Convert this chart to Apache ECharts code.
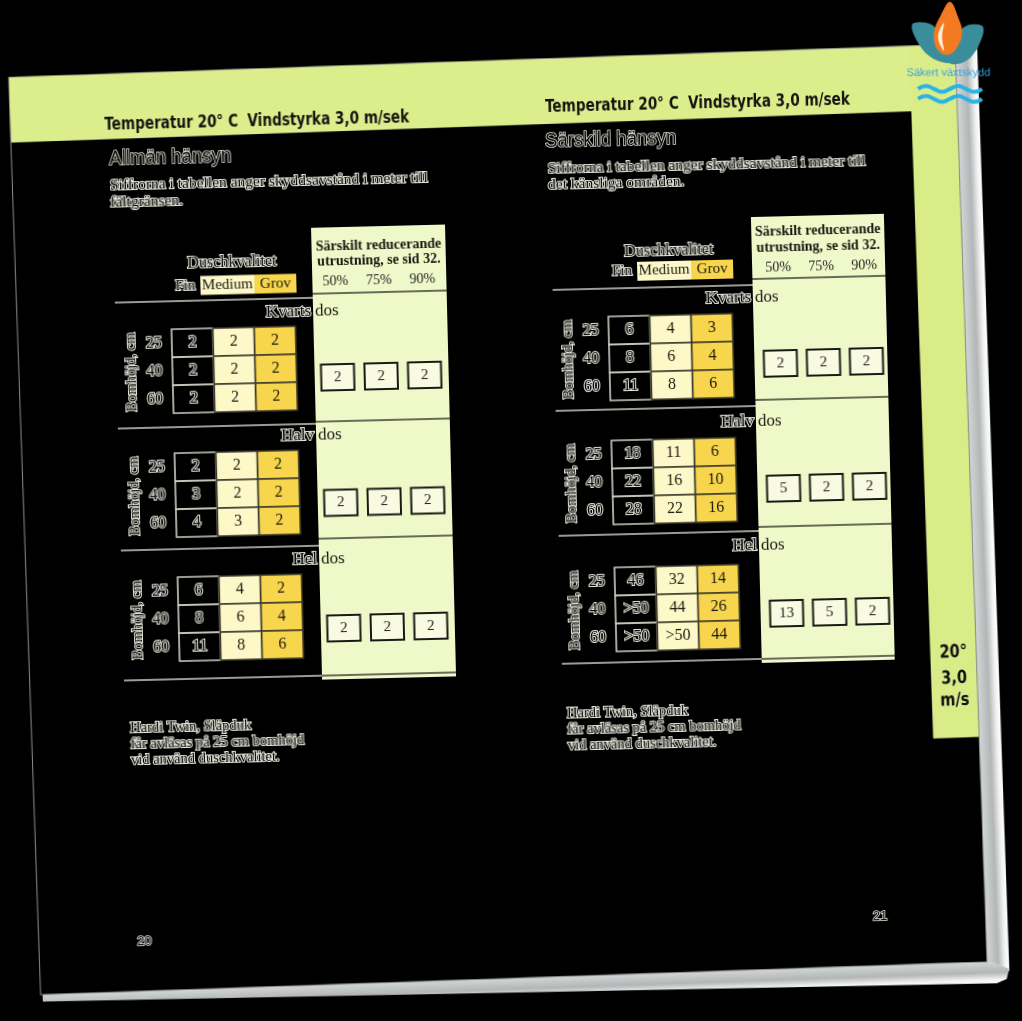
<!DOCTYPE html>
<html>
<head>
<meta charset="utf-8">
<title>Temperatur 20° C Vindstyrka 3,0 m/sek</title>
<script src="https://cdn.jsdelivr.net/npm/echarts@6/dist/echarts.min.js"></script>
<style>
  html, body { margin: 0; padding: 0; background: #000; overflow: hidden; }
  #main { width: 1022px; height: 1021px; transform: rotate(-1.4deg); transform-origin: 511px 510px; }
</style>
</head>
<body>
<div id="main"></div>
<script>
// kategorier
const qualities = ['Fin', 'Medium', 'Grov']
const boomHeights = ['25', '40', '60']
const doses = ['Kvarts', 'Halv', 'Hel']
const reductions = ['50%', '75%', '90%']

// sida 20, allmän hänsyn (rad = bomhöjd, kolumn = duschkvalitet)
const generalKvarts = [[2, 2, 2], [2, 2, 2], [2, 2, 2]]
const generalHalv = [[2, 2, 2], [3, 2, 2], [4, 3, 2]]
const generalHel = [[6, 4, 2], [8, 6, 4], [11, 8, 6]]
const generalReduced = [[2, 2, 2], [2, 2, 2], [2, 2, 2]]

// sida 21, särskild hänsyn
const specialKvarts = [[6, 4, 3], [8, 6, 4], [11, 8, 6]]
const specialHalv = [[18, 11, 6], [22, 16, 10], [28, 22, 16]]
const specialHel = [['46', '32', '14'], ['>50', '44', '26'], ['>50', '>50', '44']]
const specialReduced = [[2, 2, 2], [5, 2, 2], [13, 5, 2]]

const pageTables = [[generalKvarts, generalHalv, generalHel], [specialKvarts, specialHalv, specialHel]]
const pageReduced = [generalReduced, specialReduced]
const headerText = 'Temperatur 20° C  Vindstyrka 3,0 m/sek'
const subTitles = ['Allmän hänsyn', 'Särskild hänsyn']
const bodyLines = [
  ['Siffrorna i tabellen anger skyddsavstånd i meter till', 'fältgränsen.'],
  ['Siffrorna i tabellen anger skyddsavstånd i meter till', 'det känsliga områden.']
]
const footLines = ['Hardi Twin, Släpduk', 'får avläsas på 25 cm bomhöjd', 'vid använd duschkvalitet.']
const pageNumbers = ['20', '21']
const tabLines = ['20°', '3,0', 'm/s']

// layout (ej data)
const layout = [
  {
    head: [114, 115], sub: [118, 149], body: [118, 176, 17], tableLeft: 176, tableTops: [321, 445, 569],
    panel: [318, 223, 452, 675], panelHead: [242, 257, 277], lineLeft: 120,
    seps: [[293, 289], [419, 417], [541, 534], [671, 671]], titles: [307, 431, 555], qualY: 278, duschY: 256,
    boxX: [341, 428], boxY: [373, 624], foot: [125, 719], pageNo: [134, 932]
  },
  {
    head: [555, 108], sub: [554, 142], body: [556, 170, 16], tableLeft: 613, tableTops: [319, 443, 570],
    panel: [758, 223, 891, 669], panelHead: [238, 254, 274.5], lineLeft: 558,
    seps: [[291, 285], [412, 406], [537, 533], [665, 665]], titles: [304, 428, 552], qualY: 274.5, duschY: 255,
    boxX: [784, 870], boxY: [370, 620], foot: [562, 715.5], pageNo: [870, 925]
  }
]

const DEG = Math.PI / 180
const serif = "'Liberation Serif', 'DejaVu Serif', serif"
const sans = "'Liberation Sans', 'DejaVu Sans', sans-serif"
const narrow = "'DejaVu Sans Condensed', 'Liberation Sans', sans-serif"
const cellFill = ['rgba(0,0,0,0)', '#fdf8c8', '#f7d54c']
const haloColor = '#e2e5d8'

function txt (x, y, text, font, extra, z) {
  return {
    type: 'text', x: x, y: y, z: z || 50,
    style: Object.assign({
      text: text, font: font, fill: '#161610',
      textAlign: 'left', align: 'left', textVerticalAlign: 'middle', verticalAlign: 'middle'
    }, extra || {})
  }
}
// ljus kant runt mörk text: ett streck-lager under ett fyll-lager
function halo (x, y, text, font, extra, w, sx) {
  const under = txt(x, y, text, font, Object.assign({}, extra, { fill: null, stroke: haloColor, lineWidth: w || 2 }), 48)
  const over = txt(x, y, text, font, Object.assign({}, extra, { fill: '#050505' }), 50)
  if (sx) { under.scaleX = sx; over.scaleX = sx }
  return [under, over]
}
const center = { textAlign: 'center', align: 'center' }
const right = { textAlign: 'right', align: 'right' }
function line (x1, y1, x2, y2, color, w) {
  return { type: 'line', z: 20, shape: { x1: x1, y1: y1, x2: x2, y2: y2 }, style: { stroke: color, lineWidth: w || 1.5 } }
}

function cellRenderer (table) {
  return function (params, api) {
    const col = api.value(0)
    const row = api.value(1)
    const c = api.coord([col, row])
    const s = api.size([1, 1])
    const fin = col === 0
    const label = String(table[row][col])
    const rect = {
      type: 'rect',
      shape: { x: c[0] - s[0] / 2, y: c[1] - s[1] / 2, width: s[0], height: s[1] },
      style: { fill: cellFill[col], stroke: fin ? '#cdd0c2' : '#3a382a', lineWidth: 1.6 }
    }
    const base = { x: c[0], y: c[1], text: label, font: '16px ' + serif, textAlign: 'center', align: 'center', textVerticalAlign: 'middle', verticalAlign: 'middle' }
    const children = [rect]
    if (fin) {
      children.push({ type: 'text', style: Object.assign({}, base, { fill: null, stroke: haloColor, lineWidth: 2 }) })
      children.push({ type: 'text', style: Object.assign({}, base, { fill: '#050505' }) })
    } else {
      children.push({ type: 'text', style: Object.assign({}, base, { fill: '#1c1a12' }) })
    }
    return { type: 'group', children: children }
  }
}

function boxRenderer (values) {
  return function (params, api) {
    const col = api.value(0)
    const row = api.value(1)
    const c = api.coord([col, row])
    return {
      type: 'group',
      children: [
        { type: 'rect', shape: { x: c[0] - 16.5, y: c[1] - 13, width: 33, height: 26 }, style: { fill: '#f8fbe2', stroke: '#1a1a14', lineWidth: 2 } },
        { type: 'text', style: { x: c[0], y: c[1], text: String(values[row][col]), font: '15px ' + serif, fill: '#222', textAlign: 'center', align: 'center', textVerticalAlign: 'middle', verticalAlign: 'middle' } }
      ]
    }
  }
}

const grids = []
const xAxes = []
const yAxes = []
const series = []
const elements = []

// sidram, band och flik (ramen lutar lite mer än innehållet)
const shade = function (horizontal) {
  return new echarts.graphic.LinearGradient(0, 0, horizontal ? 1 : 0, horizontal ? 0 : 1, [
    { offset: 0, color: '#d2d6d6' }, { offset: 0.5, color: '#b2b6b6' },
    { offset: 0.82, color: '#f2f2f2' }, { offset: 1, color: '#ffffff' }
  ])
}
elements.push({
  type: 'group', originX: 511, originY: 510, rotation: 0.6 * DEG, z: 0,
  children: [
    { type: 'rect', z: 1, shape: { x: 971, y: 62, width: 22, height: 926 }, style: { fill: shade(true) } },
    { type: 'polygon', z: 1, shape: { points: [[26, 978], [975, 978], [993, 986], [990, 996], [980, 1000], [26, 985]] }, style: { fill: shade(false) } },
    { type: 'rect', z: 2, shape: { x: 24, y: 60, width: 947, height: 65.5 }, style: { fill: '#dcee8c' } },
    { type: 'rect', z: 2, shape: { x: 925, y: 60, width: 46, height: 693 }, style: { fill: '#d9ec88' } },
    { type: 'polyline', z: 3, shape: { points: [[971, 60], [24, 60], [24, 978], [971, 978], [971, 60]] }, style: { stroke: '#8c8e88', lineWidth: 1, fill: null } }
  ].concat(tabLines.map(function (t, i) {
    const el = txt(948, [668, 694, 716][i], t, 'bold 18px ' + narrow, Object.assign({ fill: '#111' }, center))
    el.scaleX = 0.9
    return el
  }))
})

layout.forEach(function (L, p) {
  const pl = L.panel
  elements.push({ type: 'rect', z: 5, shape: { x: pl[0], y: pl[1], width: pl[2] - pl[0], height: pl[3] - pl[1] }, style: { fill: '#eff8c8' } })
  const head = txt(L.head[0], L.head[1], headerText, 'bold 18px ' + narrow, { fill: '#141410' })
  head.scaleX = 0.84
  elements.push(head)
  elements.push.apply(elements, halo(L.sub[0], L.sub[1], subTitles[p], '20px ' + sans, {}, 1.6, 0.93))
  bodyLines[p].forEach(function (t, i) {
    elements.push.apply(elements, halo(L.body[0], L.body[1] + i * L.body[2], t, '15.5px ' + serif, {}))
  })
  const tl = L.tableLeft
  elements.push.apply(elements, halo(tl + 62, L.duschY, 'Duschkvalitet', '16px ' + serif, center))
  elements.push.apply(elements, halo(tl + 15, L.qualY, qualities[0], '15px ' + serif, center))
  elements.push({ type: 'rect', z: 30, shape: { x: tl + 30, y: L.qualY - 9.5, width: 54, height: 19 }, style: { fill: cellFill[1] } })
  elements.push({ type: 'rect', z: 30, shape: { x: tl + 84, y: L.qualY - 9.5, width: 42, height: 19 }, style: { fill: cellFill[2] } })
  elements.push(txt(tl + 57, L.qualY, qualities[1], '15px ' + serif, center))
  elements.push(txt(tl + 105, L.qualY, qualities[2], '15px ' + serif, center))
  const pc = (pl[0] + pl[2]) / 2
  elements.push(txt(pc, L.panelHead[0], 'Särskilt reducerande', 'bold 14px ' + serif, center))
  elements.push(txt(pc, L.panelHead[1], 'utrustning, se sid 32.', 'bold 14px ' + serif, center))
  const bstep = (L.boxX[1] - L.boxX[0]) / 2
  reductions.forEach(function (r, i) {
    elements.push(txt(L.boxX[0] + i * bstep, L.panelHead[2], r, '14px ' + serif, Object.assign({ fill: '#222' }, center)))
  })
  L.seps.forEach(function (s) {
    elements.push(line(L.lineLeft, s[0], pl[0], s[0], '#cdd0c4', 1.6))
    elements.push(line(pl[0], s[1], pl[2], s[1], '#3c3c34', 1.6))
  })
  doses.forEach(function (d, s) {
    elements.push.apply(elements, halo(pl[0] - 2, L.titles[s], d, '17px ' + serif, right))
    elements.push(txt(pl[0] + 2, L.titles[s], 'dos', '17px ' + serif, { fill: '#1a1a12' }))
  })
  footLines.forEach(function (t, i) {
    elements.push.apply(elements, halo(L.foot[0], L.foot[1] + i * 16, t, '14.5px ' + serif, {}))
  })
  elements.push.apply(elements, halo(L.pageNo[0], L.pageNo[1], pageNumbers[p], '13px ' + sans, center, 1.6))

  // tabeller
  pageTables[p].forEach(function (table, s) {
    const gi = grids.length
    grids.push({ left: tl, top: L.tableTops[s], width: 124, height: 84 })
    xAxes.push({ gridIndex: gi, type: 'category', data: qualities, show: false })
    yAxes.push({
      gridIndex: gi, type: 'category', data: boomHeights, inverse: true,
      axisLine: { show: false }, axisTick: { show: false }, splitLine: { show: false },
      axisLabel: { fontFamily: serif, fontSize: 16, color: '#050505', textBorderColor: haloColor, textBorderWidth: 2, margin: 10 },
      name: 'Bomhöjd, cm', nameLocation: 'middle', nameRotate: 90, nameGap: 33,
      nameTextStyle: { fontFamily: serif, fontSize: 14.5, color: '#050505', textBorderColor: haloColor, textBorderWidth: 2 }
    })
    const data = []
    table.forEach(function (row, r) { row.forEach(function (v, c) { data.push([c, r]) }) })
    series.push({ type: 'custom', coordinateSystem: 'cartesian2d', xAxisIndex: gi, yAxisIndex: gi, z: 10, data: data, renderItem: cellRenderer(table) })
  })

  // reducerande utrustning
  const gi = grids.length
  const ystep = (L.boxY[1] - L.boxY[0]) / 2
  grids.push({ left: L.boxX[0] - bstep / 2, top: L.boxY[0] - ystep / 2, width: bstep * 3, height: ystep * 3 })
  xAxes.push({ gridIndex: gi, type: 'category', data: reductions, show: false })
  yAxes.push({ gridIndex: gi, type: 'category', data: doses, inverse: true, show: false })
  const bdata = []
  pageReduced[p].forEach(function (row, r) { row.forEach(function (v, c) { bdata.push([c, r]) }) })
  series.push({ type: 'custom', coordinateSystem: 'cartesian2d', xAxisIndex: gi, yAxisIndex: gi, z: 10, data: bdata, renderItem: boxRenderer(pageReduced[p]) })
})

// logga, upprätt trots sidans lutning
elements.push({
  type: 'group', x: 959, y: 65.7, rotation: -1.4 * DEG, z: 200,
  children: [
    { type: 'polygon', z: 201, shape: { points: [[-36, -30], [-18, -31], [-5, -17], [3, 1], [10, 8], [-10, 6], [-26, -6]], smooth: 0.35 }, style: { fill: '#3a8e9c' } },
    { type: 'polygon', z: 201, shape: { points: [[35, -28], [18, -29], [6, -15], [2, 8], [18, 6], [30, -8]], smooth: 0.35 }, style: { fill: '#3a8e9c' } },
    { type: 'polygon', z: 202, shape: { points: [[2, -53], [10, -38], [14, -22], [8, -6], [-1, 0], [-11, -6], [-14, -22], [-7, -40]], smooth: 0.4 }, style: { fill: '#f47a22' } },
    { type: 'polygon', z: 203, shape: { points: [[-4, -32], [-10, -18], [-4, -4], [-6, -18]], smooth: 0.4 }, style: { fill: '#fff3df' } },
    { type: 'text', z: 204, x: 0.5, y: 18, style: { text: 'Säkert växtskydd', font: '11px ' + sans, fill: '#3aa2dc', textAlign: 'center', align: 'center', textVerticalAlign: 'middle', verticalAlign: 'middle' } },
    { type: 'polyline', z: 204, shape: { points: [[-30, 34], [-22, 31], [-14, 34], [-6, 37], [2, 34], [10, 31], [18, 34], [26, 37], [34, 34]], smooth: 0.5 }, style: { stroke: '#2bb3e6', lineWidth: 4, fill: null } },
    { type: 'polyline', z: 204, shape: { points: [[-30, 44], [-22, 41], [-14, 44], [-6, 47], [2, 44], [10, 41], [18, 44], [26, 47], [34, 44]], smooth: 0.5 }, style: { stroke: '#2bb3e6', lineWidth: 4, fill: null } }
  ]
})

const chart = echarts.init(document.getElementById('main'))
chart.setOption({
  backgroundColor: '#000',
  animation: false,
  grid: grids,
  xAxis: xAxes,
  yAxis: yAxes,
  series: series,
  graphic: { elements: elements }
})
</script>
</body>
</html>
